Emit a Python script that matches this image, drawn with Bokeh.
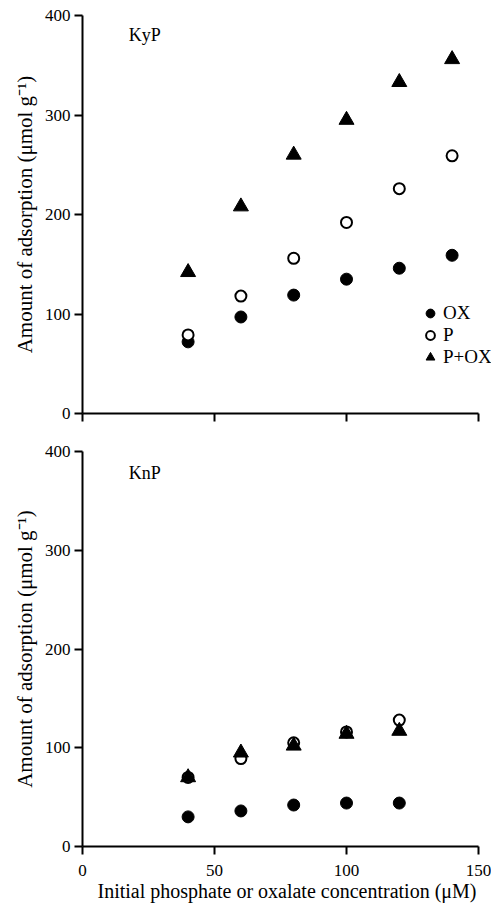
from bokeh.plotting import figure
from bokeh.layouts import column
from bokeh.models import Range1d, FixedTicker, Label, Legend, LegendItem
from bokeh.embed import file_html
from bokeh.resources import INLINE

# ---- data ----
conc_top = [40, 60, 80, 100, 120, 140]
kyp_ox = [72, 97, 119, 135, 146, 159]
kyp_p = [79, 118, 156, 192, 226, 259]
kyp_pox = [142, 208, 260, 295, 333, 356]

conc_bot = [40, 60, 80, 100, 120]
knp_ox = [30, 36, 42, 44, 44]
knp_p = [70, 89, 105, 116, 128]
knp_pox = [70, 95, 102, 114, 117]

x_ticks = [0, 50, 100, 150]
y_ticks = [0, 100, 200, 300, 400]
series_names = ["OX", "P", "P+OX"]

FONT = "Liberation Serif"
YLABEL = "Amount of adsorption (\u03bcmol g\u207b\u00b9)"
XLABEL = "Initial phosphate or oxalate concentration (\u03bcM)"

# axis drawn from 0 to 150; frame continues to the page edge so the legend is not clipped
X_END = 150 * 409 / 396


def make_fig(height, top, bottom, show_xlabels):
    p = figure(width=491, height=height, output_backend="svg", toolbar_location=None,
               x_range=Range1d(0, X_END), y_range=Range1d(0, 400),
               min_border_left=82, min_border_right=0,
               min_border_top=top, min_border_bottom=bottom)
    p.outline_line_color = None
    p.grid.visible = False
    p.background_fill_color = "white"
    p.border_fill_color = "white"
    for ax in (p.xaxis[0], p.yaxis[0]):
        ax.axis_line_width = 2
        ax.axis_line_color = "black"
        ax.major_tick_line_width = 2
        ax.major_tick_line_color = "black"
        ax.major_tick_out = 8
        ax.major_tick_in = 0
        ax.minor_tick_line_color = None
        ax.major_label_text_font = FONT
        ax.major_label_text_font_size = "17px"
        ax.major_label_text_color = "black"
        ax.axis_label_text_font = FONT
        ax.axis_label_text_font_style = "normal"
        ax.axis_label_text_color = "black"
    p.xaxis.bounds = (0, 150)
    p.xaxis.ticker = FixedTicker(ticks=x_ticks)
    p.yaxis.ticker = FixedTicker(ticks=y_ticks)
    p.yaxis.axis_label = YLABEL
    p.yaxis.axis_label_text_font_size = "21px"
    p.yaxis.axis_label_standoff = 5
    p.yaxis.major_label_standoff = 4
    if show_xlabels:
        p.xaxis.axis_label = XLABEL
        p.xaxis.axis_label_text_font_size = "20px"
        p.xaxis.axis_label_standoff = 1
        p.xaxis.major_label_standoff = 10
    else:
        p.xaxis.major_label_overrides = {t: "" for t in x_ticks}
    return p


def add_series(p, x, ox, pp, pox):
    r_ox = p.scatter(x, ox, marker="circle", size=12, fill_color="black", line_color="black")
    r_p = p.scatter(x, pp, marker="circle", size=11, fill_color="white", line_color="black", line_width=2)
    r_pox = p.scatter(x, pox, marker="triangle", size=15, fill_color="black", line_color="black")
    return r_ox, r_p, r_pox


top = make_fig(431, 15, 18, False)
rs = add_series(top, conc_top, kyp_ox, kyp_p, kyp_pox)
top.add_layout(Label(x=17.5, y=390, text="KyP", text_font=FONT, text_font_size="18px",
                     text_baseline="top", text_color="black"))

legend = Legend(items=[LegendItem(label=n, renderers=[r]) for n, r in zip(series_names, rs)],
                location=(336, 45), orientation="vertical",
                glyph_width=24, glyph_height=22, spacing=0, label_standoff=1,
                padding=0, margin=0, border_line_color=None, background_fill_alpha=0,
                label_text_font=FONT, label_text_font_size="19px", label_text_color="black",
                label_height=22)
top.add_layout(legend)

bot = make_fig(478, 20, 63, True)
add_series(bot, conc_bot, knp_ox, knp_p, knp_pox)
bot.add_layout(Label(x=17.5, y=388, text="KnP", text_font=FONT, text_font_size="18px",
                     text_baseline="top", text_color="black"))

layout = column(top, bot, spacing=0)
open("out.html", "w").write(file_html(layout, INLINE))
